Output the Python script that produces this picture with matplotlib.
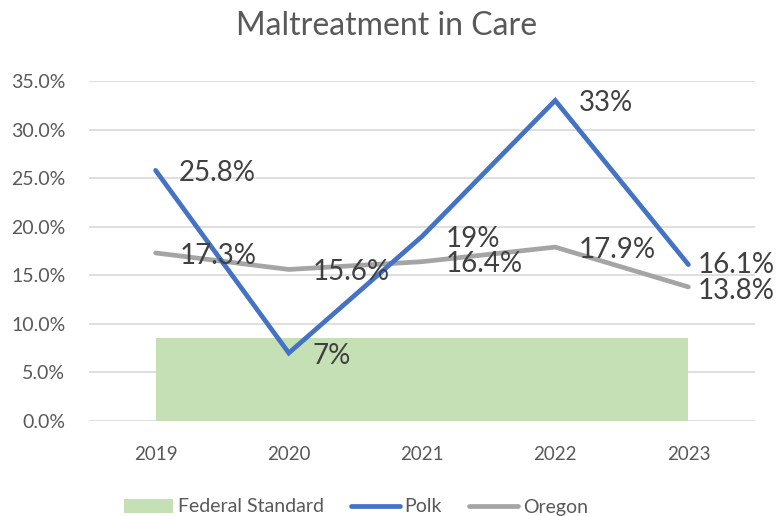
import matplotlib.pyplot as plt

years = ["2019", "2020", "2021", "2022", "2023"]
polk = [25.8, 7, 19, 33, 16.1]
oregon = [17.3, 15.6, 16.4, 17.9, 13.8]
federal_standard = 8.5

plt.rcParams["font.family"] = ["Lato", "DejaVu Sans"]

fig = plt.figure(figsize=(7.76, 5.16), dpi=100)
ax = fig.add_axes([89 / 776, 1 - 421 / 516, 666 / 776, 340 / 516])

x = list(range(len(years)))
ax.fill_between(x, 0, [federal_standard] * len(x), color="#C5E0B4", lw=0,
                label="Federal Standard", zorder=1)
ax.plot(x, polk, color="#4472C4", lw=3.4, solid_capstyle="round",
        solid_joinstyle="miter", label="Polk", zorder=3)
ax.plot(x, oregon, color="#A5A5A5", lw=3.4, solid_capstyle="round",
        solid_joinstyle="miter", label="Oregon", zorder=2)

# data labels to the right of each point (last ones pulled in so they fit)
for series, dy_last in ((polk, 0), (oregon, -3)):
    for i, v in enumerate(series):
        last = i == len(series) - 1
        dx = 7 if last else 17
        dy = dy_last if last else -2
        ax.annotate(f"{v:g}%", (i, v), xytext=(dx, dy), textcoords="offset points",
                    ha="left", va="center", fontsize=20, color="#404040",
                    zorder=5, annotation_clip=False)

ax.set_xlim(-0.5, 4.5)
ax.set_ylim(0, 35)
ax.set_yticks(range(0, 36, 5))
ax.set_yticklabels([f"{t:.1f}%" for t in range(0, 36, 5)])
ax.set_xticks(x)
ax.set_xticklabels(years)
ax.tick_params(axis="y", length=0, pad=17, labelsize=14, labelcolor="#595959")
ax.tick_params(axis="x", length=0, pad=18, labelsize=13.5, labelcolor="#595959")
ax.grid(axis="y", color="#D9D9D9", lw=1.2)
ax.set_axisbelow(True)
for s in ax.spines.values():
    s.set_visible(False)

fig.text(387 / 776, 1 - 26 / 516, "Maltreatment in Care", ha="center", va="center",
         fontsize=23, color="#595959")

fig.legend(loc="center", bbox_to_anchor=(356 / 776, 1 - 507 / 516), ncol=3,
           frameon=False, fontsize=14, labelcolor="#595959", handlelength=2.5,
           handletextpad=0.25, columnspacing=1.4)

fig.savefig("out.png", dpi=100)
